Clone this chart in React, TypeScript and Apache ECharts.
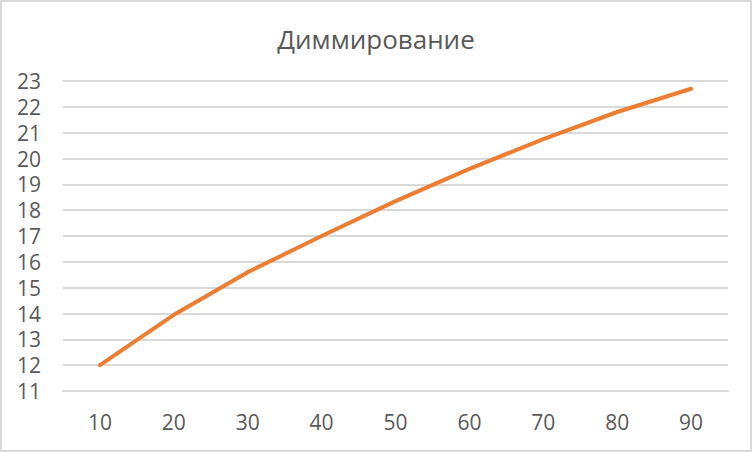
import React, { useEffect, useRef } from "react";
import * as echarts from "echarts";

const categories = ["10", "20", "30", "40", "50", "60", "70", "80", "90"];
const values = [12, 13.95, 15.6, 17.0, 18.35, 19.6, 20.75, 21.8, 22.7];
const titleText = "Диммирование";
const yMin = 11;
const yMax = 23;

export default function App() {
  const ref = useRef<HTMLDivElement>(null);
  useEffect(() => {
    if (!ref.current) return;
    const chart = echarts.init(ref.current, undefined, { renderer: "svg" });
    chart.setOption({
      animation: false,
      backgroundColor: "#ffffff",
      title: {
        text: titleText,
        left: "center",
        top: 21,
        textStyle: {
          fontFamily: "Open Sans",
          fontSize: 26,
          fontWeight: "normal",
          color: "#595959",
        },
      },
      grid: { left: 63, right: 24, top: 81, bottom: 61 },
      xAxis: {
        type: "category",
        data: categories,
        boundaryGap: true,
        axisLine: { show: true, lineStyle: { color: "#d9d9d9", width: 2 } },
        axisTick: { show: false },
        axisLabel: {
          color: "#595959",
          fontFamily: "Open Sans",
          fontSize: 21,
          margin: 20,
        },
      },
      yAxis: {
        type: "value",
        min: yMin,
        max: yMax,
        interval: 1,
        axisLine: { show: false },
        axisTick: { show: false },
        splitLine: { lineStyle: { color: "#d9d9d9", width: 2 } },
        axisLabel: {
          color: "#595959",
          fontFamily: "Open Sans",
          fontSize: 21,
          margin: 22,
        },
      },
      series: [
        {
          type: "line",
          data: values,
          symbol: "none",
          lineStyle: { color: "#ED7D31", width: 4, cap: "round", join: "round" },
        },
      ],
    });
    return () => chart.dispose();
  }, []);
  return (
    <div style={{ position: "absolute", left: 0, top: 0, width: 752, height: 452 }}>
      <div ref={ref} style={{ position: "absolute", left: 0, top: 0, width: 752, height: 452 }} />
      <div
        style={{
          position: "absolute",
          left: 0,
          top: 0,
          width: 752,
          height: 452,
          boxSizing: "border-box",
          border: "2px solid #d9d9d9",
          pointerEvents: "none",
        }}
      />
    </div>
  );
}
